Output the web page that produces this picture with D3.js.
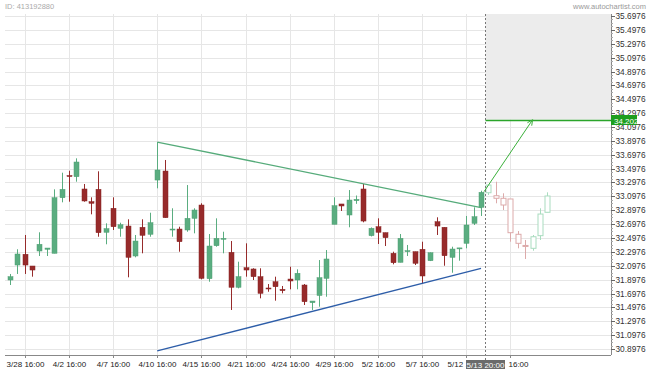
<!DOCTYPE html>
<html><head><meta charset="utf-8">
<script src="https://cdn.jsdelivr.net/npm/d3@7"></script>
<style>html,body{margin:0;padding:0;background:#fff;overflow:hidden}</style>
</head><body><svg id="c" width="650" height="372"></svg>
<script>
const opens=[31.892,32.108,32.263,32.094,32.310,32.335,32.277,33.078,33.398,33.381,33.204,33.021,33.199,32.580,32.926,32.637,32.670,32.238,32.652,32.551,33.333,33.463,32.613,32.627,32.613,32.781,32.973,31.911,32.386,32.486,32.291,31.787,32.069,32.051,31.940,31.777,31.867,31.758,31.906,31.892,31.820,31.565,31.669,31.916,32.695,32.988,32.829,33.035,33.204,32.531,32.660,32.574,32.277,32.147,32.305,32.300,32.335,32.170,32.732,32.652,32.219,32.345,32.421,32.709,32.940];
const highs=[31.979,32.335,32.541,32.094,32.580,32.353,33.199,33.439,33.467,33.646,33.276,33.084,33.459,32.709,33.084,32.718,32.767,32.541,32.767,32.862,33.881,33.622,32.926,32.660,33.261,32.926,32.998,32.555,32.781,32.588,32.454,32.156,32.421,32.061,32.061,31.834,31.940,31.806,32.084,32.046,31.834,31.589,32.180,32.324,33.084,32.988,33.189,33.110,33.276,32.650,32.781,32.574,32.300,32.555,32.397,32.300,32.444,32.290,32.796,32.652,32.372,32.355,32.815,32.940,33.179];
const lows=[31.820,31.979,31.979,31.940,32.238,32.238,32.277,33.012,33.021,33.309,33.021,32.839,32.516,32.407,32.613,32.516,31.931,32.219,32.277,32.516,33.214,32.790,32.516,32.300,32.588,32.565,31.902,31.867,32.372,32.277,31.460,31.772,31.940,31.892,31.628,31.723,31.594,31.700,31.758,31.758,31.532,31.460,31.507,31.651,32.695,32.887,32.652,32.990,32.724,32.520,32.411,32.382,32.118,32.147,32.238,32.108,31.844,32.165,32.541,32.098,31.997,32.170,32.349,32.685,32.815];
const closes=[31.940,32.267,32.108,32.036,32.407,32.353,33.078,33.199,33.384,33.593,33.031,32.998,32.574,32.632,32.660,32.689,32.219,32.454,32.536,32.718,33.478,32.790,32.627,32.444,32.781,32.901,31.916,32.382,32.493,32.493,31.787,31.940,32.036,31.940,31.700,31.772,31.795,31.738,31.878,31.989,31.579,31.589,31.925,32.195,32.963,32.959,33.045,33.055,32.742,32.637,32.580,32.502,32.141,32.493,32.315,32.133,31.950,32.285,32.670,32.242,32.339,32.355,32.685,32.804,33.156];
const futOpens=[33.150,33.107,33.070,33.060,32.551,32.390,32.349,32.531,32.868];
const futHighs=[33.261,33.309,33.142,33.060,32.598,32.469,32.541,32.926,33.156];
const futLows=[33.117,32.998,32.901,32.444,32.349,32.195,32.314,32.469,32.868];
const futCloses=[33.261,33.070,32.973,32.574,32.421,32.380,32.516,32.843,33.103];
const xTickIdx=[2,8,14,20,26,32,38,44,50,56,62];
const xTickLabels=["3/28 16:00","4/2 16:00","4/7 16:00","4/10 16:00","4/15 16:00","4/21 16:00","4/24 16:00","4/29 16:00","5/2 16:00","5/7 16:00","5/12 16:00"];
const lastTickIdx=68, lastTickLabel="16:00";
const yTickLabels=["30.8976","31.0976","31.2976","31.4976","31.6976","31.8976","32.0976","32.2976","32.4976","32.6976","32.8976","33.0976","33.2976","33.4976","33.6976","33.8976","34.0976","34.2976","34.4976","34.6976","34.8976","35.0976","35.2976","35.4976","35.6976"];
const upperLine=[{i:20,v:33.881},{i:64,v:32.937}];
const lowerLine=[{i:20,v:30.869},{i:64,v:32.061}];
const nowIdx=64.5, nowLabel="5/13 20:00";
const target=34.202, arrowFrom={i:64.4,v:33.165}, arrowTo={i:71,v:34.202};

const svg=d3.select("#c");
const L=5,R=611,T=14,B=355;
const x=d3.scaleLinear().domain([0,73]).range([10,547.3]);
const y=d3.scaleLinear().domain([30.8976,35.6976]).range([349,16]);
const font="'Liberation Sans',Arial,sans-serif";

svg.append("text").attr("x",5).attr("y",9).attr("font-family",font).attr("font-size",7.5).attr("fill","#aaa").text("ID: 413192880");
svg.append("text").attr("x",646).attr("y",9).attr("text-anchor","end").attr("font-family",font).attr("font-size",7.5).attr("fill","#999").text("www.autochartist.com");

const g=svg.append("g");
yTickLabels.forEach(t=>{const yy=Math.round(y(+t))+0.5;
  g.append("line").attr("x1",L).attr("x2",R).attr("y1",yy).attr("y2",yy).attr("stroke","#e6e6e6");});
xTickIdx.concat([lastTickIdx]).forEach(i=>{const xx=Math.round(x(i))+0.5;
  g.append("line").attr("x1",xx).attr("x2",xx).attr("y1",T).attr("y2",B).attr("stroke","#e6e6e6");});

const nx=Math.round(x(nowIdx))+0.5;
svg.append("rect").attr("x",nx).attr("y",T).attr("width",R-nx).attr("height",y(target)-T).attr("fill","#ececec");

function drawCandles(o,h,l,c,offset,faded){
  const gg=svg.append("g");
  o.forEach((ov,k)=>{
    const i=k+offset, cx=Math.round(x(i))+0.5, up=c[k]>=ov;
    const col=faded?(up?"#a9dcbf":"#dcaaaa"):(up?"#5aad80":"#972b2b");
    const top=y(Math.max(ov,c[k])), bot=y(Math.min(ov,c[k]));
    gg.append("line").attr("x1",cx).attr("x2",cx).attr("y1",y(h[k])).attr("y2",y(l[k])).attr("stroke",col).attr("stroke-width",1);
    const hgt=Math.max(1,bot-top);
    if(faded){
      gg.append("rect").attr("x",cx-2.5).attr("y",top).attr("width",5).attr("height",hgt).attr("fill","#fff").attr("stroke",col).attr("stroke-width",1);
    } else {
      gg.append("rect").attr("x",cx-2.5).attr("y",top).attr("width",5).attr("height",hgt).attr("fill",col).attr("stroke",up?"#4f9e73":"#862323").attr("stroke-width",0.5);
    }
  });
}
drawCandles(opens,highs,lows,closes,0,false);
drawCandles(futOpens,futHighs,futLows,futCloses,65,true);

svg.append("line").attr("x1",x(upperLine[0].i)).attr("y1",y(upperLine[0].v)).attr("x2",x(upperLine[1].i)).attr("y2",y(upperLine[1].v)).attr("stroke","#55ab7a").attr("stroke-width",1.3);
svg.append("line").attr("x1",x(lowerLine[0].i)).attr("y1",y(lowerLine[0].v)).attr("x2",x(lowerLine[1].i)).attr("y2",y(lowerLine[1].v)).attr("stroke","#2d5da8").attr("stroke-width",1.3);

svg.append("line").attr("x1",nx).attr("x2",nx).attr("y1",T).attr("y2",360).attr("stroke","#777").attr("stroke-dasharray","2,2");

const ty=Math.round(y(target))+0.5;
svg.append("line").attr("x1",nx).attr("x2",R).attr("y1",ty).attr("y2",ty).attr("stroke","#2aa52a").attr("stroke-width",1.3);
const ax1=x(arrowFrom.i),ay1=y(arrowFrom.v),ax2=x(arrowTo.i),ay2=y(arrowTo.v);
svg.append("line").attr("x1",ax1).attr("y1",ay1).attr("x2",ax2).attr("y2",ay2).attr("stroke","#3bb03b").attr("stroke-width",1);
const ang=Math.atan2(ay2-ay1,ax2-ax1), hl=6;
[0.45,-0.45].forEach(d=>{svg.append("line").attr("x1",ax2).attr("y1",ay2)
  .attr("x2",ax2-hl*Math.cos(ang+d)).attr("y2",ay2-hl*Math.sin(ang+d)).attr("stroke","#3bb03b").attr("stroke-width",1);});

const ra=svg.append("g");
ra.append("line").attr("x1",R+0.5).attr("x2",R+0.5).attr("y1",T).attr("y2",B).attr("stroke","#888");
d3.range(30.8976,35.70,0.05).forEach(v=>{const yy=Math.round(y(v))+0.5;
  ra.append("line").attr("x1",R).attr("x2",R+2).attr("y1",yy).attr("y2",yy).attr("stroke","#aaa");});
yTickLabels.forEach(t=>{const yy=Math.round(y(+t))+0.5;
  ra.append("line").attr("x1",R).attr("x2",R+4).attr("y1",yy).attr("y2",yy).attr("stroke","#666");
  ra.append("text").attr("x",R+4.5).attr("y",yy+2.8).attr("font-family",font).attr("font-size",8.3).attr("fill","#333").text(t);});
ra.append("rect").attr("x",R).attr("y",ty-5.5).attr("width",26).attr("height",10).attr("fill","#1e9e1e");
ra.append("text").attr("x",R+3).attr("y",ty+3).attr("font-family",font).attr("font-size",8).attr("fill","#fff").text(target.toFixed(3));

const ba=svg.append("g");
ba.append("line").attr("x1",L).attr("x2",R).attr("y1",B+0.5).attr("y2",B+0.5).attr("stroke","#888");
xTickIdx.forEach((i,k)=>{const xx=Math.round(x(i))+0.5;
  ba.append("line").attr("x1",xx).attr("x2",xx).attr("y1",B).attr("y2",B+3).attr("stroke","#888");
  ba.append("text").attr("x",xx).attr("y",367).attr("text-anchor","middle").attr("font-family",font).attr("font-size",8).attr("fill","#222").text(xTickLabels[k]);});
const lx=Math.round(x(lastTickIdx))+0.5;
ba.append("line").attr("x1",lx).attr("x2",lx).attr("y1",B).attr("y2",B+3).attr("stroke","#888");
ba.append("text").attr("x",nx+23).attr("y",367).attr("font-family",font).attr("font-size",8).attr("fill","#222").text(lastTickLabel);
ba.append("rect").attr("x",nx-19.5).attr("y",360).attr("width",39).attr("height",9).attr("fill","#6b6b6b");
ba.append("text").attr("x",nx).attr("y",367.5).attr("text-anchor","middle").attr("font-family",font).attr("font-size",8).attr("fill","#fff").text(nowLabel);
</script></body></html>
